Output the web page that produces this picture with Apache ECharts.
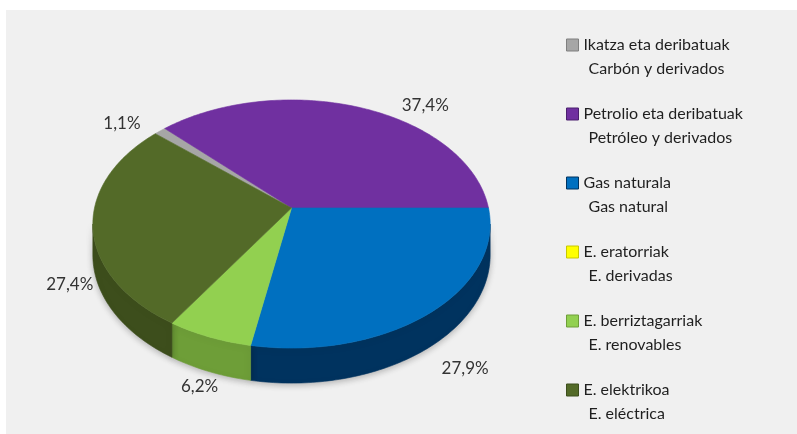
<!DOCTYPE html>
<html><head><meta charset="utf-8">
<script src="https://cdn.jsdelivr.net/npm/echarts@6/dist/echarts.min.js"></script>
<style>html,body{margin:0;padding:0;background:#ffffff}#c{width:797px;height:434px}</style>
</head><body><div id="c"></div>
<script>
// ---- data ----
const categoriesEu = ['Ikatza eta deribatuak', 'Petrolio eta deribatuak', 'Gas naturala', 'E. eratorriak', 'E. berriztagarriak', 'E. elektrikoa'];
const categoriesEs = ['Carbón y derivados', 'Petróleo y derivados', 'Gas natural', 'E. derivadas', 'E. renovables', 'E. eléctrica'];
const shares = [1.1, 37.4, 27.9, 0, 6.2, 27.4];

// ---- styles / layout ----
const topColors = ['#a6a6a6', '#7030a0', '#0070c0', '#ffff00', '#92d050', '#536a28'];
const sideColors = ['#7f7f7f', '#4b1f6e', '#00335f', '#c8c800', '#6e9e38', '#3d4e1c'];
const FONT = 'Lato, "Open Sans", sans-serif';
const geo = { cx: 291.5, cy: 208, rx: 197, ry: 122, k: 0.129, h: 30.5, startAngle: 138.6 };
const labelAngleAdjust = [4.7, -16.3, 0.6, 0, 0, 10];
const labelRadius = [1.21, 1.21, 1.2, 1.15, 1.1, 1.13];

const total = shares.reduce((a, b) => a + b, 0);
const starts = [];
{ let acc = 0; shares.forEach(v => { starts.push(acc); acc += v; }); }

function proj(a, r, depth) {
  const rad = a * Math.PI / 180;
  const u = r * Math.cos(rad), v = r * Math.sin(rad);
  const d = 1 + geo.k * v;
  return [geo.cx + geo.rx * u / d, geo.cy - geo.ry * v / d + (depth ? geo.h / d : 0)];
}
function arc(from, to, r, depth) {
  const n = Math.max(2, Math.ceil(Math.abs(to - from) / 1) + 1);
  const pts = [];
  for (let j = 0; j < n; j++) pts.push(proj(from + (to - from) * j / (n - 1), r, depth));
  return pts;
}
const sil = Math.asin(geo.k) * 180 / Math.PI;
const wallLo = -180 + sil, wallHi = -sil;
const fmt = v => v.toFixed(1).replace('.', ',') + '%';

function makeRender(i) {
  return function (params, api) {
    const value = api.value(0);
    if (!value) return null;
    const a0 = geo.startAngle - 360 * starts[i] / total;
    const a1 = a0 - 360 * value / total;
    const children = [];
    [-360, 0, 360].forEach(sh => {
      const lo = Math.max(a1, wallLo + sh), hi = Math.min(a0, wallHi + sh);
      if (hi > lo) {
        const pts = arc(hi, lo, 1, false).concat(arc(lo, hi, 1, true));
        children.push({ type: 'polygon', z2: 1, shape: { points: pts },
          style: { fill: sideColors[i], stroke: sideColors[i], lineWidth: 0.6,
                   shadowBlur: 6, shadowColor: 'rgba(0,0,0,0.25)', shadowOffsetY: 2 } });
      }
    });
    const topPts = [proj(0, 0, false)].concat(arc(a0, a1, 1, false));
    children.push({ type: 'polygon', z2: 10, shape: { points: topPts },
      style: { fill: topColors[i], stroke: topColors[i], lineWidth: 0.6 } });
    const am = (a0 + a1) / 2 + labelAngleAdjust[i];
    const vs = Math.sin(am * Math.PI / 180);
    const p = proj(am, labelRadius[i], vs < 0);
    children.push({ type: 'text', z2: 30, x: p[0], y: p[1],
      style: { text: fmt(value), fill: '#333333', font: '17px ' + FONT, align: 'center', verticalAlign: 'middle' } });
    return { type: 'group', children };
  };
}

const series = categoriesEu.map((name, i) => ({
  type: 'custom', name, coordinateSystem: 'none',
  itemStyle: { color: topColors[i] },
  data: [shares[i]],
  renderItem: makeRender(i),
  silent: true
}));

const chart = echarts.init(document.getElementById('c'), null, { renderer: 'canvas' });
chart.setOption({
  animation: false,
  backgroundColor: '#ffffff',
  graphic: [{ type: 'rect', z: -10, left: 6, top: 10, shape: { width: 791, height: 424 }, style: { fill: '#f0f0f0' } }],
  legend: {
    orient: 'vertical', left: 566, top: 13, padding: 0, itemWidth: 12, itemHeight: 12, itemGap: 5,
    icon: 'rect', selectedMode: false,
    data: categoriesEu.map((n, i) => ({ name: n, itemStyle: { borderColor: sideColors[i], borderWidth: 1 } })),
    formatter: name => {
      const i = categoriesEu.indexOf(name);
      return '{e| }\n{t|' + name + '}\n{s|' + categoriesEs[i] + '}';
    },
    textStyle: {
      rich: {
        e: { fontSize: 16, lineHeight: 24, fontFamily: FONT },
        t: { fontSize: 16, lineHeight: 24, fontFamily: FONT, color: '#1f1f1f' },
        s: { fontSize: 16, lineHeight: 24, fontFamily: FONT, color: '#1f1f1f', padding: [0, 0, 0, 5] }
      }
    }
  },
  series
});
</script></body></html>
